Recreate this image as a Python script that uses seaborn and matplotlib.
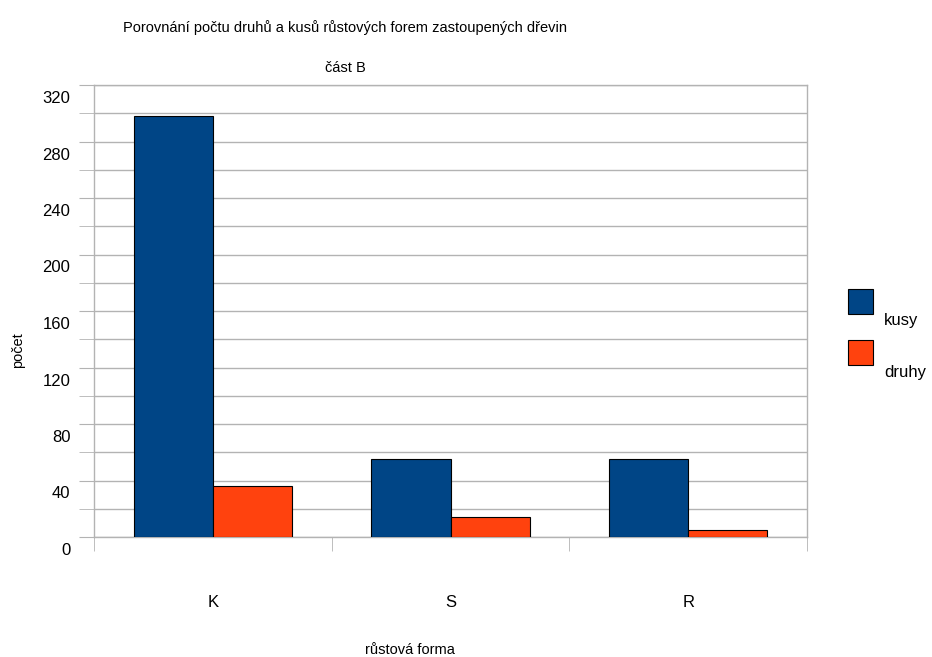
import pandas as pd
import matplotlib
matplotlib.use("Agg")
import matplotlib.pyplot as plt
import matplotlib.transforms as mtransforms
from matplotlib.patches import Rectangle
from matplotlib.ticker import MultipleLocator, FixedLocator
import seaborn as sns

# chart data
forms = ["K", "S", "R"]
kusy = [298, 55, 55]
druhy = [36, 14, 5]
series_names = ["kusy", "druhy"]
colors = ["#004586", "#ff420e"]
y_ticks = list(range(0, 321, 40))

title = "Porovnání počtu druhů a kusů růstových forem zastoupených dřevin"
subtitle = "část B"
x_label = "růstová forma"
y_label = "počet"


def build_frame() -> pd.DataFrame:
    rows = []
    for name, values in zip(series_names, [kusy, druhy]):
        for form, v in zip(forms, values):
            rows.append({"forma": form, "pocet": v, "serie": name})
    return pd.DataFrame(rows)


def main() -> None:
    sns.set_style("white")
    plt.rcParams["font.family"] = ["Liberation Sans", "DejaVu Sans"]
    plt.rcParams["text.color"] = "black"
    plt.rcParams["xtick.labelcolor"] = "black"
    plt.rcParams["ytick.labelcolor"] = "black"
    grid_col = "#b3b3b3"

    df = build_frame()
    fig = plt.figure(figsize=(9.32, 6.57), dpi=100)
    ax = fig.add_axes([94 / 932, 1 - 537 / 657, (807 - 94) / 932, (537 - 85) / 657])

    sns.barplot(data=df, x="forma", y="pocet", hue="serie", order=forms,
                hue_order=series_names, palette=colors, width=2 / 3, saturation=1,
                edgecolor="black", linewidth=0.8, legend=False, ax=ax, zorder=3)

    ax.set_xlim(-0.5, len(forms) - 0.5)
    ax.set_ylim(0, 320)
    ax.set_yticks(y_ticks)
    ax.yaxis.set_minor_locator(MultipleLocator(20))
    ax.xaxis.set_minor_locator(FixedLocator([i - 0.5 for i in range(len(forms) + 1)]))
    ax.grid(axis="y", which="both", color=grid_col, linewidth=1, zorder=0)
    ax.set_axisbelow(True)

    for s in ax.spines.values():
        s.set_color(grid_col)
        s.set_linewidth(1)

    ax.tick_params(axis="y", which="both", length=11, color=grid_col,
                   labelsize=12, labelcolor="black", pad=6, left=True)
    ax.tick_params(axis="x", which="major", length=0, labelsize=12,
                   labelcolor="black", pad=42)
    ax.tick_params(axis="x", which="minor", length=10, color=grid_col, bottom=True)

    # y labels sit a bit below their gridlines in the original
    shift = mtransforms.ScaledTranslation(0, -12 / 100, fig.dpi_scale_trans)
    for lbl in ax.get_yticklabels():
        lbl.set_transform(lbl.get_transform() + shift)

    ax.set_xlabel("")
    ax.set_ylabel("")

    fig.text(345 / 932, 1 - 28 / 657, title, ha="center", va="center", fontsize=10.5)
    fig.text(345 / 932, 1 - 68 / 657, subtitle, ha="center", va="center", fontsize=10.5)
    fig.text(410 / 932, 1 - 650 / 657, x_label, ha="center", va="center", fontsize=10.5)
    fig.text(18 / 932, 1 - 350 / 657, y_label, ha="center", va="center",
             rotation=90, fontsize=10.5)

    # legend: squares with labels slightly below
    for i, (name, col) in enumerate(zip(series_names, colors)):
        top = 289 + i * 51
        fig.patches.append(Rectangle((848 / 932, 1 - (top + 25) / 657), 25 / 932, 25 / 657,
                                     transform=fig.transFigure, facecolor=col,
                                     edgecolor="black", linewidth=0.8))
        fig.text(884 / 932, 1 - (top + 32) / 657, name, ha="left", va="center", fontsize=12)

    fig.savefig("out.png", dpi=100)


if __name__ == "__main__":
    main()
